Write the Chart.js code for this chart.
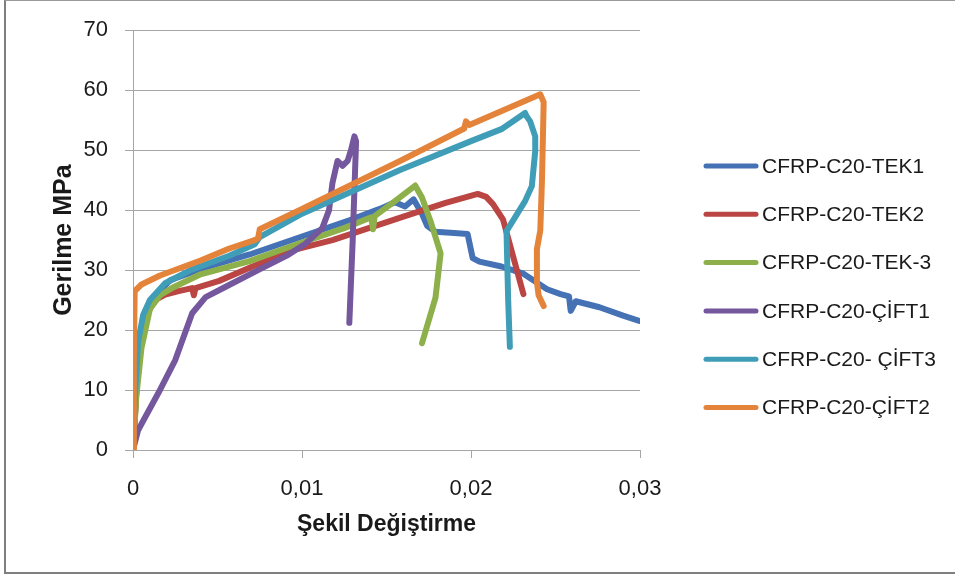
<!DOCTYPE html>
<html>
<head>
<meta charset="utf-8">
<script src="https://cdn.jsdelivr.net/npm/chart.js@4"></script>
<style>
  html, body { margin: 0; padding: 0; background: #fff; }
  #wrap { position: relative; width: 955px; height: 576px; overflow: hidden; }
  #frame { position: absolute; left: 4px; top: 0; width: 960px; height: 571px;
           border: 1px solid #9a9a9a; border-left: 2px solid #7f7f7f; border-bottom: 2px solid #7f7f7f; pointer-events: none; }
  canvas { position: absolute; left: 0; top: 0; }
</style>
</head>
<body>
<div id="wrap">
  <canvas id="stressChart" width="955" height="576"></canvas>
  <div id="frame"></div>
</div>
<script>
// Series labels and colours
const seriesNames = ['CFRP-C20-TEK1', 'CFRP-C20-TEK2', 'CFRP-C20-TEK-3', 'CFRP-C20-ÇİFT1', 'CFRP-C20- ÇİFT3', 'CFRP-C20-ÇİFT2'];
const seriesColors = ['#4472B4', '#BA4542', '#8DB04B', '#74579C', '#3F9DB8', '#E4843A'];

// Axis ticks
const strainTicks = [0, 0.01, 0.02, 0.03];
const stressTicks = [0, 10, 20, 30, 40, 50, 60, 70];

// CFRP-C20-TEK1
const tek1Strain = [0, 0.0002, 0.0004, 0.0008, 0.0012, 0.0022, 0.004, 0.0069, 0.01, 0.0128, 0.0146, 0.0155, 0.0161, 0.0166, 0.0171, 0.0174, 0.0179, 0.019, 0.0198, 0.0201, 0.0205, 0.0218, 0.0231, 0.0245, 0.0253, 0.0258, 0.0259, 0.0262, 0.0276, 0.029, 0.03];
const tek1Stress = [0, 10, 18, 23.5, 25.5, 28.3, 30.2, 32.6, 35.6, 38.3, 40.2, 41.3, 40.6, 41.8, 39.4, 37.4, 36.4, 36.2, 36.0, 32.0, 31.4, 30.6, 29.4, 26.8, 26.0, 25.6, 23.2, 24.8, 23.8, 22.4, 21.5];

// CFRP-C20-TEK2
const tek2Strain = [0, 0.0002, 0.0005, 0.0008, 0.0013, 0.0019, 0.0027, 0.0035, 0.0036, 0.0037, 0.0051, 0.007, 0.0093, 0.0118, 0.016, 0.0185, 0.0204, 0.0209, 0.0213, 0.0219, 0.0231];
const tek2Stress = [0, 10, 18, 22.5, 25, 25.9, 26.5, 27, 25.8, 27, 28.2, 30.5, 33.2, 35.0, 38.9, 41.2, 42.7, 42.2, 41.0, 38.4, 26.0];

// CFRP-C20-TEK-3
const tek3Strain = [0, 0.0002, 0.0005, 0.001, 0.0016, 0.0023, 0.004, 0.0069, 0.01, 0.0125, 0.0141, 0.0142, 0.0143, 0.0155, 0.0167, 0.0171, 0.0176, 0.0182, 0.0179, 0.0171];
const tek3Stress = [0, 9, 17, 23.5, 25.8, 27, 29.3, 31.5, 34.6, 37, 38.8, 36.8, 39.0, 41.5, 44.1, 42.1, 38.2, 32.8, 25.4, 17.8];

// CFRP-C20-ÇİFT1
const cift1Strain = [0, 0.0003, 0.0015, 0.0025, 0.0035, 0.0043, 0.0054, 0.0074, 0.0091, 0.0102, 0.0112, 0.0116, 0.0118, 0.0121, 0.0124, 0.0127, 0.0129, 0.0131, 0.0132, 0.013, 0.0128];
const cift1Stress = [0, 3.3, 9.5, 15, 22.8, 25.5, 27.1, 30, 32.4, 34.4, 37, 40, 44.5, 48.2, 47.4, 48.2, 50, 52.3, 51.5, 35, 21.2];

// CFRP-C20- ÇİFT3
const cift3Strain = [0, 0.0001, 0.0003, 0.0006, 0.001, 0.0019, 0.0034, 0.0057, 0.0072, 0.0075, 0.01, 0.0158, 0.02, 0.0218, 0.0232, 0.0233, 0.0235, 0.0238, 0.0238, 0.0236, 0.0232, 0.0221, 0.0222, 0.0223];
const cift3Stress = [0, 8, 18, 22.5, 25, 27.8, 30, 32.4, 34.3, 35.5, 39.4, 46.7, 51.5, 53.5, 56.2, 55.6, 54.8, 52.3, 49.8, 44, 41.5, 36.5, 25, 17.2];

// CFRP-C20-ÇİFT2
const cift2Strain = [0, 0.00005, 0.0001, 0.0005, 0.0016, 0.004, 0.0057, 0.0072, 0.0074, 0.0075, 0.01, 0.0158, 0.0196, 0.0197, 0.0199, 0.0241, 0.0243, 0.0242, 0.0241, 0.0239, 0.0239, 0.024, 0.0243];
const cift2Stress = [0, 15, 26.5, 27.6, 29.1, 31.6, 33.6, 35.0, 35.3, 36.8, 40.2, 48.2, 53.6, 54.8, 54.2, 59.3, 58.0, 45, 36.6, 33.5, 28, 25.8, 24];

const strainSets = [tek1Strain, tek2Strain, tek3Strain, cift1Strain, cift3Strain, cift2Strain];
const stressSets = [tek1Stress, tek2Stress, tek3Stress, cift1Stress, cift3Stress, cift2Stress];

const FONT = '"Liberation Sans", Arial, sans-serif';

// Build datasets, later series drawn on top like the spreadsheet
const datasets = seriesNames.map((name, i) => ({
    label: name,
    data: strainSets[i].map((x, k) => ({ x: x, y: stressSets[i][k] })),
    borderColor: seriesColors[i],
    backgroundColor: seriesColors[i],
    borderWidth: 6,
    borderJoinStyle: 'round',
    borderCapStyle: 'round',
    pointRadius: 0,
    tension: 0,
    order: seriesNames.length - i
}));

// Legend drawn at the right side
const sideLegend = {
    id: 'sideLegend',
    afterDraw(chart) {
        const ctx = chart.ctx;
        ctx.save();
        ctx.font = '21px ' + FONT;
        ctx.textBaseline = 'middle';
        ctx.fillStyle = '#1a1a1a';
        chart.data.datasets.forEach((ds, i) => {
            const y = 166 + i * 48.3;
            ctx.strokeStyle = ds.borderColor;
            ctx.lineWidth = 5;
            ctx.lineCap = 'round';
            ctx.beginPath();
            ctx.moveTo(706, y);
            ctx.lineTo(756, y);
            ctx.stroke();
            ctx.fillText(ds.label, 762, y + 1);
        });
        ctx.restore();
    }
};

const ctx = document.getElementById('stressChart').getContext('2d');
new Chart(ctx, {
    type: 'line',
    data: { datasets: datasets },
    plugins: [sideLegend],
    options: {
        responsive: false,
        animation: false,
        layout: { padding: { left: 45, right: 315, top: 29, bottom: 0 } },
        plugins: { legend: { display: false }, tooltip: { enabled: false } },
        scales: {
            x: {
                type: 'linear',
                min: 0,
                max: 0.03,
                afterBuildTicks: (scale) => { scale.ticks = strainTicks.map(v => ({ value: v })); },
                afterFit: (scale) => { scale.height = 126; },
                ticks: {
                    font: { family: FONT, size: 22 },
                    color: '#1a1a1a',
                    padding: 18,
                    maxRotation: 0,
                    callback: (v) => String(Math.round(v * 100) / 100).replace('.', ',')
                },
                grid: { drawOnChartArea: false, drawTicks: true, tickLength: 8, color: '#a6a6a6' },
                border: { display: true, color: '#a6a6a6', width: 1 },
                title: {
                    display: true,
                    text: 'Şekil Değiştirme',
                    font: { family: FONT, size: 23, weight: 'bold' },
                    color: '#1a1a1a',
                    padding: { top: 8, bottom: 38 }
                }
            },
            y: {
                min: 0,
                max: 70,
                afterBuildTicks: (scale) => { scale.ticks = stressTicks.map(v => ({ value: v })); },
                afterFit: (scale) => { scale.width = 88; },
                ticks: {
                    font: { family: FONT, size: 22 },
                    color: '#1a1a1a',
                    padding: 17
                },
                grid: { drawTicks: true, tickLength: 8, color: '#a6a6a6' },
                border: { display: true, color: '#a6a6a6', width: 1 },
                title: {
                    display: true,
                    text: 'Gerilme MPa',
                    font: { family: FONT, size: 25, weight: 'bold' },
                    color: '#1a1a1a',
                    padding: { top: 4, bottom: 0 }
                }
            }
        }
    }
});
</script>
</body>
</html>
